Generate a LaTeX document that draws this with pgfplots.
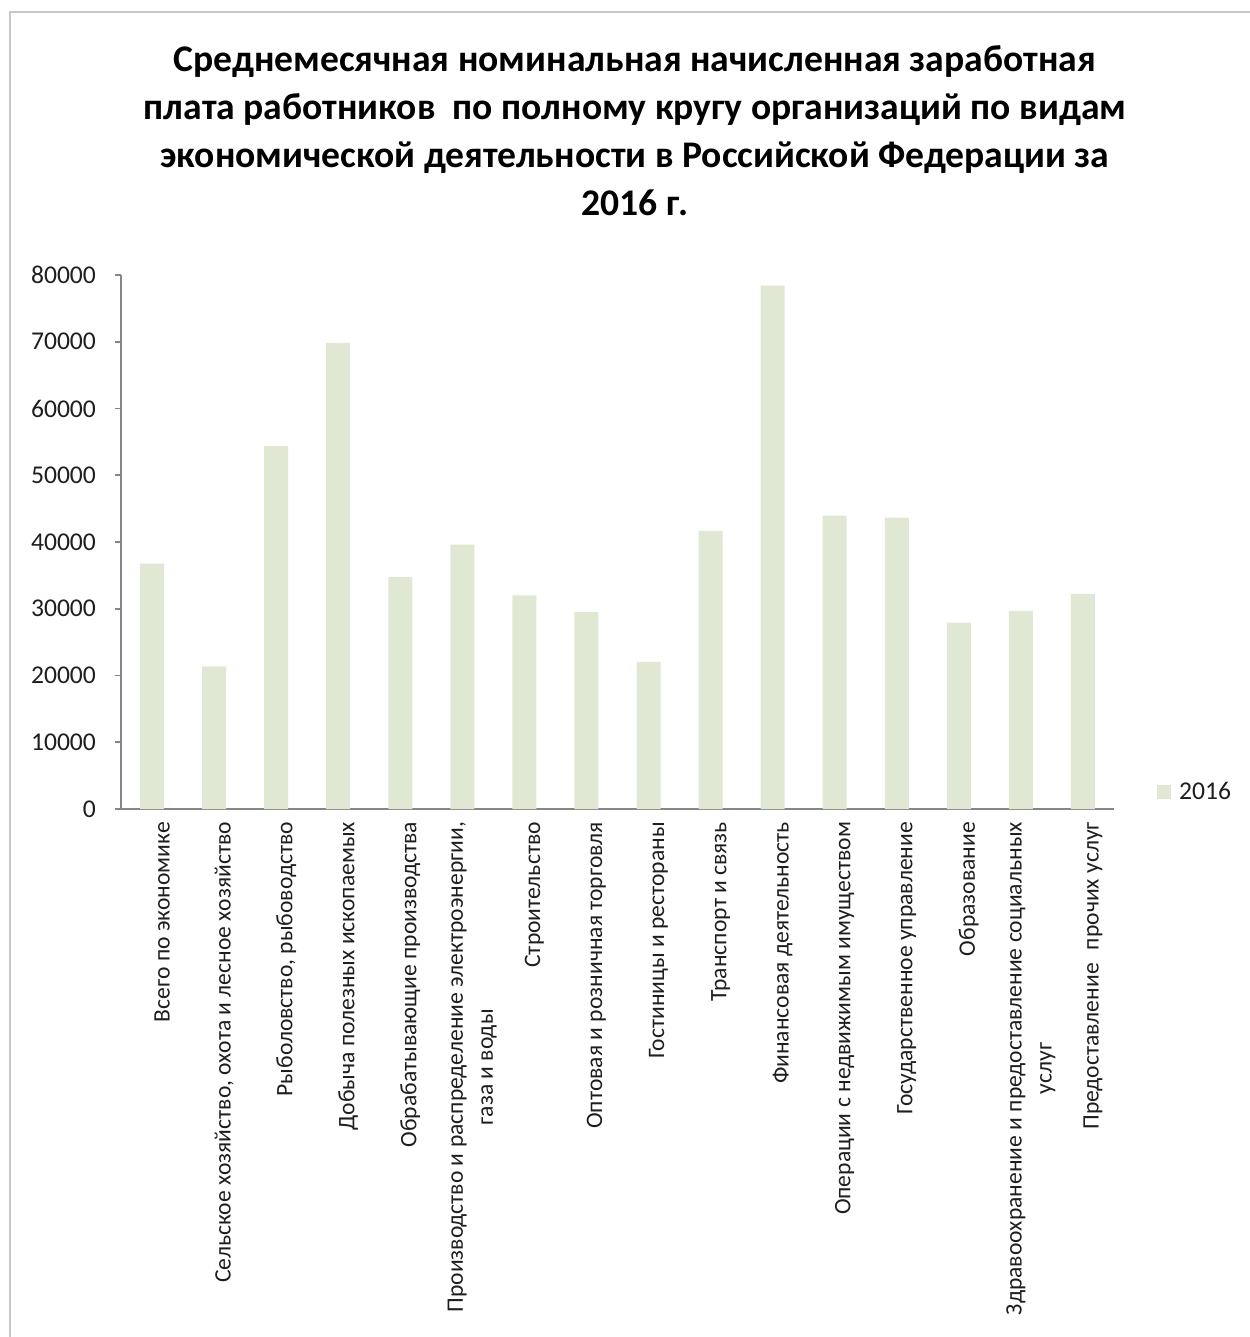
\documentclass[border=0pt]{standalone}
\usepackage{fontspec}
\setmainfont{Carlito}
\usepackage{pgfplots}
\pgfplotsset{compat=1.18}
\definecolor{barc}{RGB}{224,232,212}
\definecolor{axc}{RGB}{134,134,134}
\definecolor{txt}{RGB}{30,30,30}
\begin{document}
\begin{tikzpicture}
\useasboundingbox (-60.5pt,-264pt) rectangle (564pt,404.5pt);
\draw[black!22, line width=1.2pt] (-55.5pt,-300pt) -- (-55.5pt,398.5pt) -- (600pt,398.5pt);
\begin{axis}[
  scale only axis, width=496.5pt, height=267pt,
  at={(0pt,0pt)}, anchor=south west,
  ymin=0, ymax=80000, ytick={0,10000,...,80000},
  scaled y ticks=false,
  xmin=-0.5, xmax=15.5,
  axis x line*=bottom, axis y line*=left,
  axis line style={axc, line width=0.9pt},
  tick style={axc, line width=0.8pt},
  tick align=outside,
  major tick length=3pt,
  /pgf/number format/assume math mode=true,
  /pgf/number format/1000 sep={},
  yticklabel style={font=\fontsize{12.8}{14}\selectfont, text=txt, xshift=-6pt},
  xtick={0,...,15},
  x tick style={draw=none},
  extra x ticks={-0.5,0.5,...,15.5},
  extra x tick labels={},
  extra x tick style={tick style={axc, line width=0.8pt}, major tick length=3pt},
  xticklabels={
    {Всего по экономике},
    {Сельское хозяйство, охота и лесное хозяйство},
    {Рыболовство, рыбоводство},
    {Добыча полезных ископаемых},
    {Обрабатывающие производства},
    {Производство и распределение электроэнергии,\\газа и воды},
    {Строительство},
    {Оптовая и розничная торговля},
    {Гостиницы и рестораны},
    {Транспорт и связь},
    {Финансовая деятельность},
    {Операции с недвижимым имуществом},
    {Государственное управление},
    {Образование},
    {Здравоохранение и предоставление социальных\\услуг},
    {Предоставление\,\, прочих услуг}
  },
  xticklabel style={rotate=90, anchor=east, align=center, text=txt,
    font=\fontsize{11.8}{15}\selectfont, yshift=-5pt},
  title={Среднемесячная номинальная начисленная заработная\\плата работников~ по полному кругу организаций по видам\\экономической деятельности в Российской Федерации за\\2016 г.},
  title style={at={(0.5176,1)}, anchor=south, yshift=20pt, align=center,
    font=\bfseries\fontsize{18.8}{24}\selectfont, text=black},
  legend style={at={(1.037,0.032)}, anchor=west, draw=none, fill=none,
    font=\fontsize{12.8}{14}\selectfont, text=txt,
    /tikz/every even column/.append style={column sep=0pt}},
  legend image code/.code={\fill[barc] (0pt,-3.5pt) rectangle (7pt,3.5pt);},
]
\addplot[ybar, bar width=12pt, fill=barc, draw=none] coordinates {
  (0,36760) (1,21350) (2,54350) (3,69830) (4,34740) (5,39600)
  (6,32000) (7,29500) (8,22050) (9,41660) (10,78400) (11,43950)
  (12,43670) (13,27940) (14,29680) (15,32240)
};
\addlegendentry{\hspace{2pt}2016}
\end{axis}
\end{tikzpicture}
\end{document}
